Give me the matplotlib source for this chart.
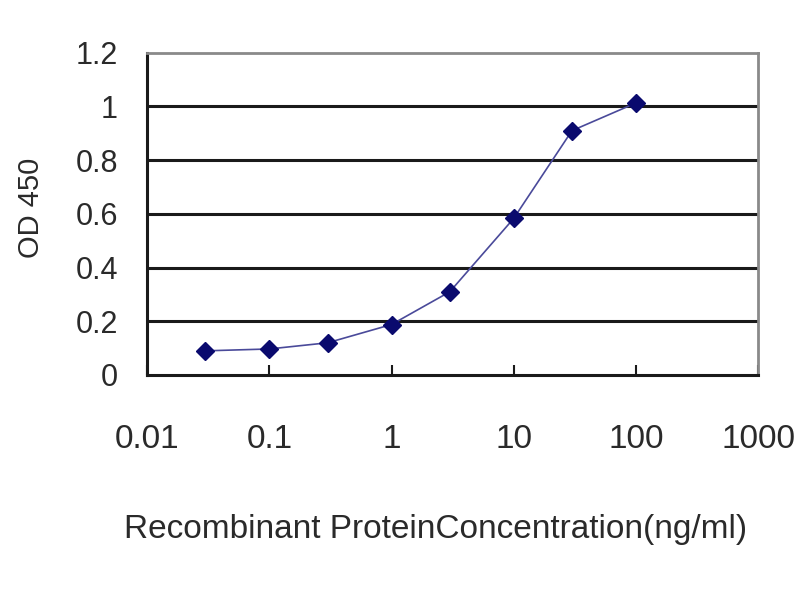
import numpy as np
import matplotlib
matplotlib.use("Agg")
import matplotlib.pyplot as plt
from matplotlib.ticker import FixedLocator, FixedFormatter, NullLocator

# concentration (ng/ml) and OD 450 readings
conc = [0.03, 0.1, 0.3, 1, 3, 10, 30, 100]
od450 = [0.09, 0.097, 0.12, 0.188, 0.31, 0.583, 0.91, 1.013]

x_ticks = [0.01, 0.1, 1, 10, 100, 1000]
x_labels = ["0.01", "0.1", "1", "10", "100", "1000"]
y_ticks = [0, 0.2, 0.4, 0.6, 0.8, 1, 1.2]
y_labels = ["0", "0.2", "0.4", "0.6", "0.8", "1", "1.2"]

plt.rcParams["font.family"] = ["Liberation Sans", "DejaVu Sans"]

fig = plt.figure(figsize=(8, 6), dpi=100)
ax = fig.add_axes([0.184, 0.375, 0.7635, 0.537])

# horizontal grid lines
for yv in y_ticks[1:-1]:
    ax.axhline(yv, color="#1a1a1a", lw=2.2, zorder=1)

ax.plot(conc, od450, color="#4a4a9a", lw=1.2, marker="D", markersize=9.5,
        markerfacecolor="#0a0a6e", markeredgecolor="#0a0a6e", zorder=3)

ax.set_xscale("log")
ax.set_xlim(0.01, 1000)
ax.set_ylim(0, 1.2)

ax.xaxis.set_major_locator(FixedLocator(x_ticks))
ax.xaxis.set_major_formatter(FixedFormatter(x_labels))
ax.xaxis.set_minor_locator(NullLocator())
ax.yaxis.set_major_locator(FixedLocator(y_ticks))
ax.yaxis.set_major_formatter(FixedFormatter(y_labels))

ax.tick_params(axis="x", direction="in", length=7, width=1.5, color="#1a1a1a",
               labelsize=24, labelcolor="#2a2a2a", pad=35)
ax.tick_params(axis="y", length=0, labelsize=22, labelcolor="#2a2a2a", pad=21)

for side in ["left", "bottom"]:
    ax.spines[side].set_color("#1a1a1a")
    ax.spines[side].set_linewidth(2.2)
for side in ["top", "right"]:
    ax.spines[side].set_color("#8a8a8a")
    ax.spines[side].set_linewidth(2)

ax.set_xlabel("Recombinant ProteinConcentration(ng/ml)", fontsize=24,
              color="#2a2a2a", va="center")
ax.xaxis.set_label_coords(0.472, -0.481)
ax.set_ylabel("OD 450", fontsize=21, color="#2a2a2a", va="center")
ax.yaxis.set_label_coords(-0.19, 0.52)

fig.savefig("out.png", dpi=100)
